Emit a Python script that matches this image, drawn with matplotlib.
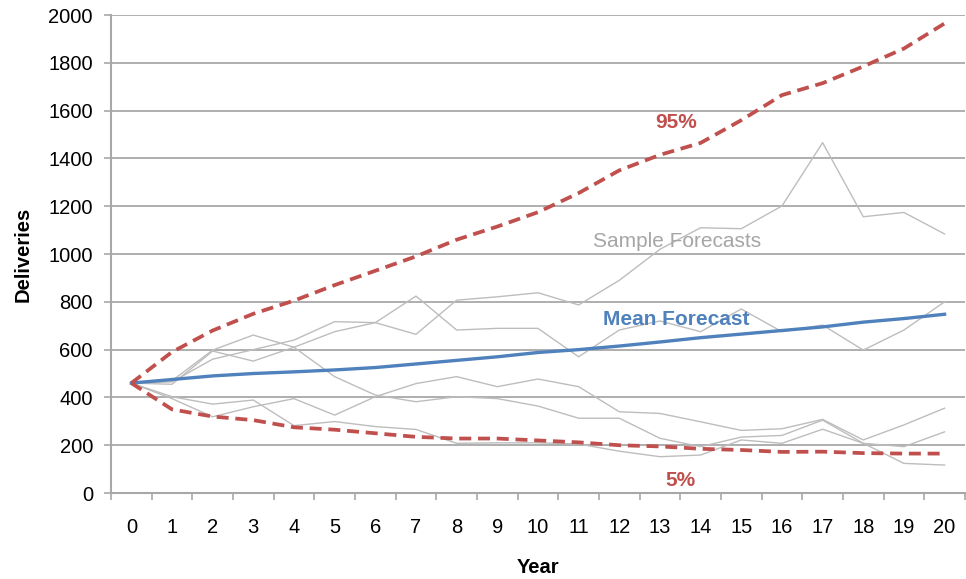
import numpy as np
import matplotlib
matplotlib.use("Agg")
import matplotlib.pyplot as plt

plt.rcParams["font.family"] = ["Liberation Sans", "DejaVu Sans"]

years = list(range(21))

upper_95 = [460, 590, 680, 750, 805, 870, 930, 990, 1060, 1115, 1175,
            1255, 1350, 1415, 1465, 1560, 1665, 1715, 1785, 1860, 1965]
lower_5 = [460, 350, 320, 305, 275, 265, 250, 235, 228, 228, 220,
           212, 200, 195, 185, 180, 172, 173, 167, 165, 165]
mean_forecast = [460, 475, 490, 500, 507, 515, 525, 540, 555, 570, 588,
                 600, 615, 632, 650, 665, 680, 695, 715, 730, 748]

sample_1 = [460, 455, 594, 552, 610, 675, 713, 664, 807, 821, 838,
            787, 890, 1020, 1110, 1106, 1201, 1466, 1156, 1174, 1084]
sample_2 = [460, 465, 560, 600, 640, 717, 713, 824, 682, 689, 689,
            570, 682, 720, 675, 770, 675, 703, 598, 682, 800]
sample_3 = [460, 395, 319, 361, 395, 326, 403, 458, 487, 445, 477,
            445, 340, 333, 298, 262, 269, 308, 222, 285, 355]
sample_4 = [460, 470, 598, 661, 610, 487, 410, 382, 403, 395, 364,
            313, 313, 229, 194, 234, 241, 305, 208, 194, 256]
sample_5 = [460, 403, 372, 389, 282, 299, 278, 266, 208, 210, 210,
            205, 175, 152, 159, 222, 208, 267, 208, 124, 117]
samples = [sample_1, sample_2, sample_3, sample_4, sample_5]

red = "#C0504D"
blue = "#4F81BD"
grey = "#BDBDBD"
axis_grey = "#A8A8A8"

fig = plt.figure(figsize=(9.66, 5.79), dpi=100)
ax = fig.add_axes([0.1149, 0.1485, 0.884, 0.8255])

for s in samples:
    ax.plot(years, s, color=grey, lw=1.0, zorder=2)
ax.plot(years, mean_forecast, color=blue, lw=2.4, zorder=3)
ax.plot(years, upper_95, color=red, lw=2.7, dashes=(3.2, 1.8), zorder=4)
ax.plot(years, lower_5, color=red, lw=2.7, dashes=(3.2, 1.8), zorder=4)

ax.set_xlim(-0.5, 20.5)
ax.set_ylim(0, 2000)
ax.set_yticks(range(0, 2001, 200))
ax.set_xticks(years)
ax.set_xticks(np.arange(-0.5, 21, 1), minor=True)
ax.tick_params(axis="x", which="major", length=0, pad=18, labelsize=14.5)
ax.tick_params(axis="x", which="minor", length=5, color=axis_grey, width=1.2)
ax.tick_params(axis="y", length=5, color=axis_grey, width=1.2, pad=8, labelsize=14.5)

ax.grid(axis="y", color=axis_grey, lw=1.3)
ax.set_axisbelow(True)
for side in ["top", "right"]:
    ax.spines[side].set_visible(False)
for side in ["left", "bottom"]:
    ax.spines[side].set_color(axis_grey)
    ax.spines[side].set_linewidth(1.5)

ax.set_ylabel("Deliveries", fontsize=14.5, fontweight="bold", labelpad=11)
ax.set_xlabel("Year", fontsize=14.5, fontweight="bold", labelpad=15)

ax.text(13.39, 1552, "95%", color=red, fontsize=15, fontweight="bold", ha="center", va="center")
ax.text(13.43, 1054, "Sample Forecasts", color="#A6A6A6", fontsize=15, ha="center", va="center")
ax.text(13.4, 724, "Mean Forecast", color=blue, fontsize=15, fontweight="bold", ha="center", va="center")
ax.text(13.5, 54, "5%", color=red, fontsize=15, fontweight="bold", ha="center", va="center")

fig.savefig("out.png", dpi=100)
